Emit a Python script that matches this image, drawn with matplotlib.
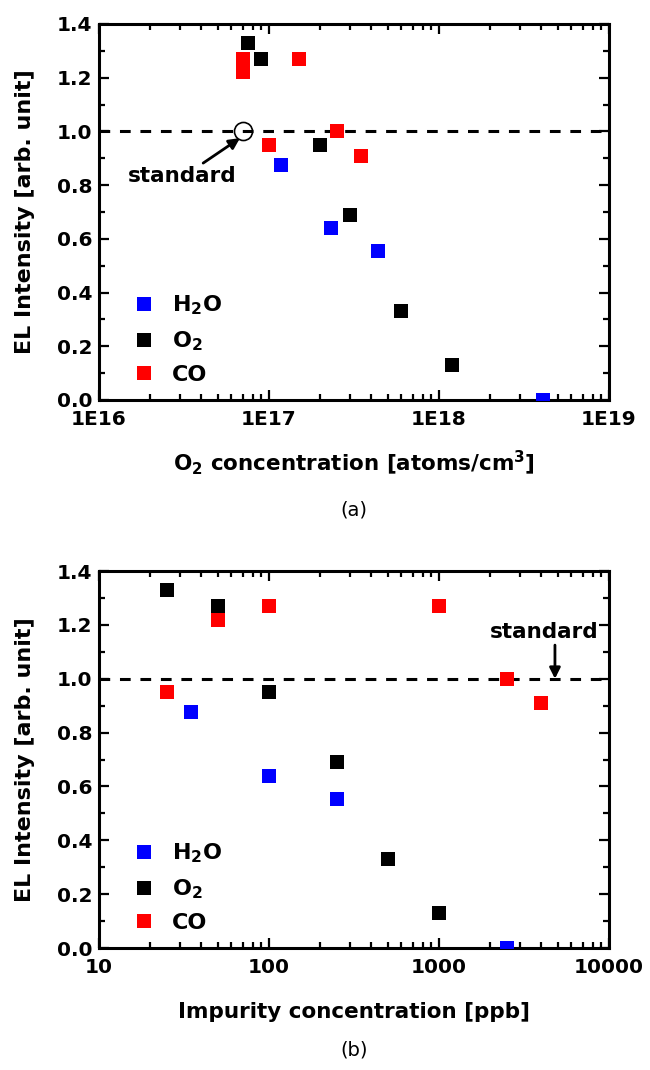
import matplotlib
matplotlib.use("Agg")
import matplotlib.pyplot as plt
from matplotlib.ticker import LogLocator, MultipleLocator, NullFormatter

plt.rcParams["font.family"] = ["DejaVu Sans"]
plt.rcParams["font.weight"] = "bold"
plt.rcParams["mathtext.fontset"] = "custom"
plt.rcParams["mathtext.rm"] = "DejaVu Sans:bold"
plt.rcParams["mathtext.it"] = "DejaVu Sans:bold"
plt.rcParams["mathtext.bf"] = "DejaVu Sans:bold"

# EL intensity (normalised) for each impurity
h2o_el = [0.875, 0.64, 0.555, 0.0]
o2_el = [1.33, 1.27, 0.95, 0.69, 0.33, 0.13]
co_el = [0.95, 1.22, 1.27, 1.27, 1.0, 0.91]

# impurity concentration in the gas [ppb]
h2o_ppb = [35, 100, 250, 2500]
o2_ppb = [25, 50, 100, 250, 500, 1000]
co_ppb = [25, 50, 100, 1000, 2500, 4000]

# O2 concentration in the film [atoms/cm3]
h2o_cm3 = [1.18e17, 2.33e17, 4.4e17, 4.1e18]
o2_cm3 = [7.5e16, 9.0e16, 2.0e17, 3.0e17, 6.0e17, 1.2e18]
co_cm3 = [1.0e17, 7.0e16, 7.0e16, 1.5e17, 2.5e17, 3.5e17]

standard_cm3 = 7.0e16
standard_el = 1.0

labels = ["H$_2$O", "O$_2$", "CO"]
colors = ["#0000ff", "#000000", "#ff0000"]


def style_axes(ax, xmin, xmax, ticklabels):
    ax.set_xscale("log")
    ax.set_xlim(xmin, xmax)
    ax.set_ylim(0, 1.4)
    ax.xaxis.set_minor_locator(LogLocator(base=10, subs=range(2, 10), numticks=20))
    ax.xaxis.set_minor_formatter(NullFormatter())
    ax.set_xticks([xmin * 10 ** i for i in range(4)])
    ax.set_xticklabels(ticklabels)
    ax.yaxis.set_major_locator(MultipleLocator(0.2))
    ax.yaxis.set_minor_locator(MultipleLocator(0.1))
    ax.yaxis.set_major_formatter(lambda v, p: "%.1f" % v)
    ax.tick_params(which="both", direction="in", top=True, right=True, width=1.6)
    ax.tick_params(which="major", length=7, labelsize=14.5)
    ax.tick_params(axis="x", which="major", pad=7)
    ax.tick_params(axis="y", which="major", pad=5)
    ax.tick_params(which="minor", length=4)
    for s in ax.spines.values():
        s.set_linewidth(2.2)
    ax.axhline(1.0, color="k", lw=2.2, ls=(0, (3.5, 3.2)), zorder=1)
    ax.set_ylabel("EL Intensity [arb. unit]", fontsize=16, fontweight="bold")
    ax.yaxis.set_label_coords(-0.125, 0.5)
    ax.legend(loc="lower left", bbox_to_anchor=(0.04, 0.004), frameon=False,
              fontsize=16, handletextpad=0.77, labelspacing=0.55,
              handlelength=1.0, borderaxespad=0.2)


fig = plt.figure(figsize=(6.5, 10.7), dpi=100)

# (a) against O2 concentration in the film
ax1 = fig.add_axes([0.1523, 0.6262, 0.7846, 0.3514])
for xs, ys, lab, c in zip([h2o_cm3, o2_cm3, co_cm3], [h2o_el, o2_el, co_el], labels, colors):
    ax1.plot(xs, ys, ls="none", marker="s", ms=10, mew=0, color=c, label=lab, zorder=3)
ax1.plot([standard_cm3], [standard_el], ls="none", marker="o", ms=13, mfc="none",
         mec="k", mew=1.2, zorder=4)
style_axes(ax1, 1e16, 1e19, ["1E16", "1E17", "1E18", "1E19"])
ax1.set_xlabel("O$_2$ concentration [atoms/cm$^3$]", fontsize=15.5, fontweight="bold")
ax1.xaxis.set_label_coords(0.5, -0.128)
ax1.annotate("", xy=(6.75e16, 0.975), xytext=(4.1e16, 0.882),
             arrowprops=dict(arrowstyle="-|>", color="k", lw=2, mutation_scale=16,
                             shrinkA=0, shrinkB=0))
ax1.text(3.08e16, 0.835, "standard", fontsize=15.5, fontweight="bold",
         ha="center", va="center")
fig.text(354 / 650, 1 - 510 / 1070, "(a)", fontsize=14, fontweight="normal",
         ha="center", va="center")

# (b) against impurity concentration in the gas
ax2 = fig.add_axes([0.1523, 0.1140, 0.7846, 0.3523])
for xs, ys, lab, c in zip([h2o_ppb, o2_ppb, co_ppb], [h2o_el, o2_el, co_el], labels, colors):
    ax2.plot(xs, ys, ls="none", marker="s", ms=10, mew=0, color=c, label=lab, zorder=3)
style_axes(ax2, 10, 10000, ["10", "100", "1000", "10000"])
ax2.set_xlabel("Impurity concentration [ppb]", fontsize=15.5, fontweight="bold")
ax2.xaxis.set_label_coords(0.5, -0.143)
ax2.annotate("", xy=(4810, 1.0), xytext=(4810, 1.125),
             arrowprops=dict(arrowstyle="-|>", color="k", lw=2, mutation_scale=16,
                             shrinkA=0, shrinkB=0))
ax2.text(4150, 1.173, "standard", fontsize=15.5, fontweight="bold",
         ha="center", va="center")
fig.text(354 / 650, 1 - 1050 / 1070, "(b)", fontsize=14, fontweight="normal",
         ha="center", va="center")

fig.savefig("out.png", dpi=100)
